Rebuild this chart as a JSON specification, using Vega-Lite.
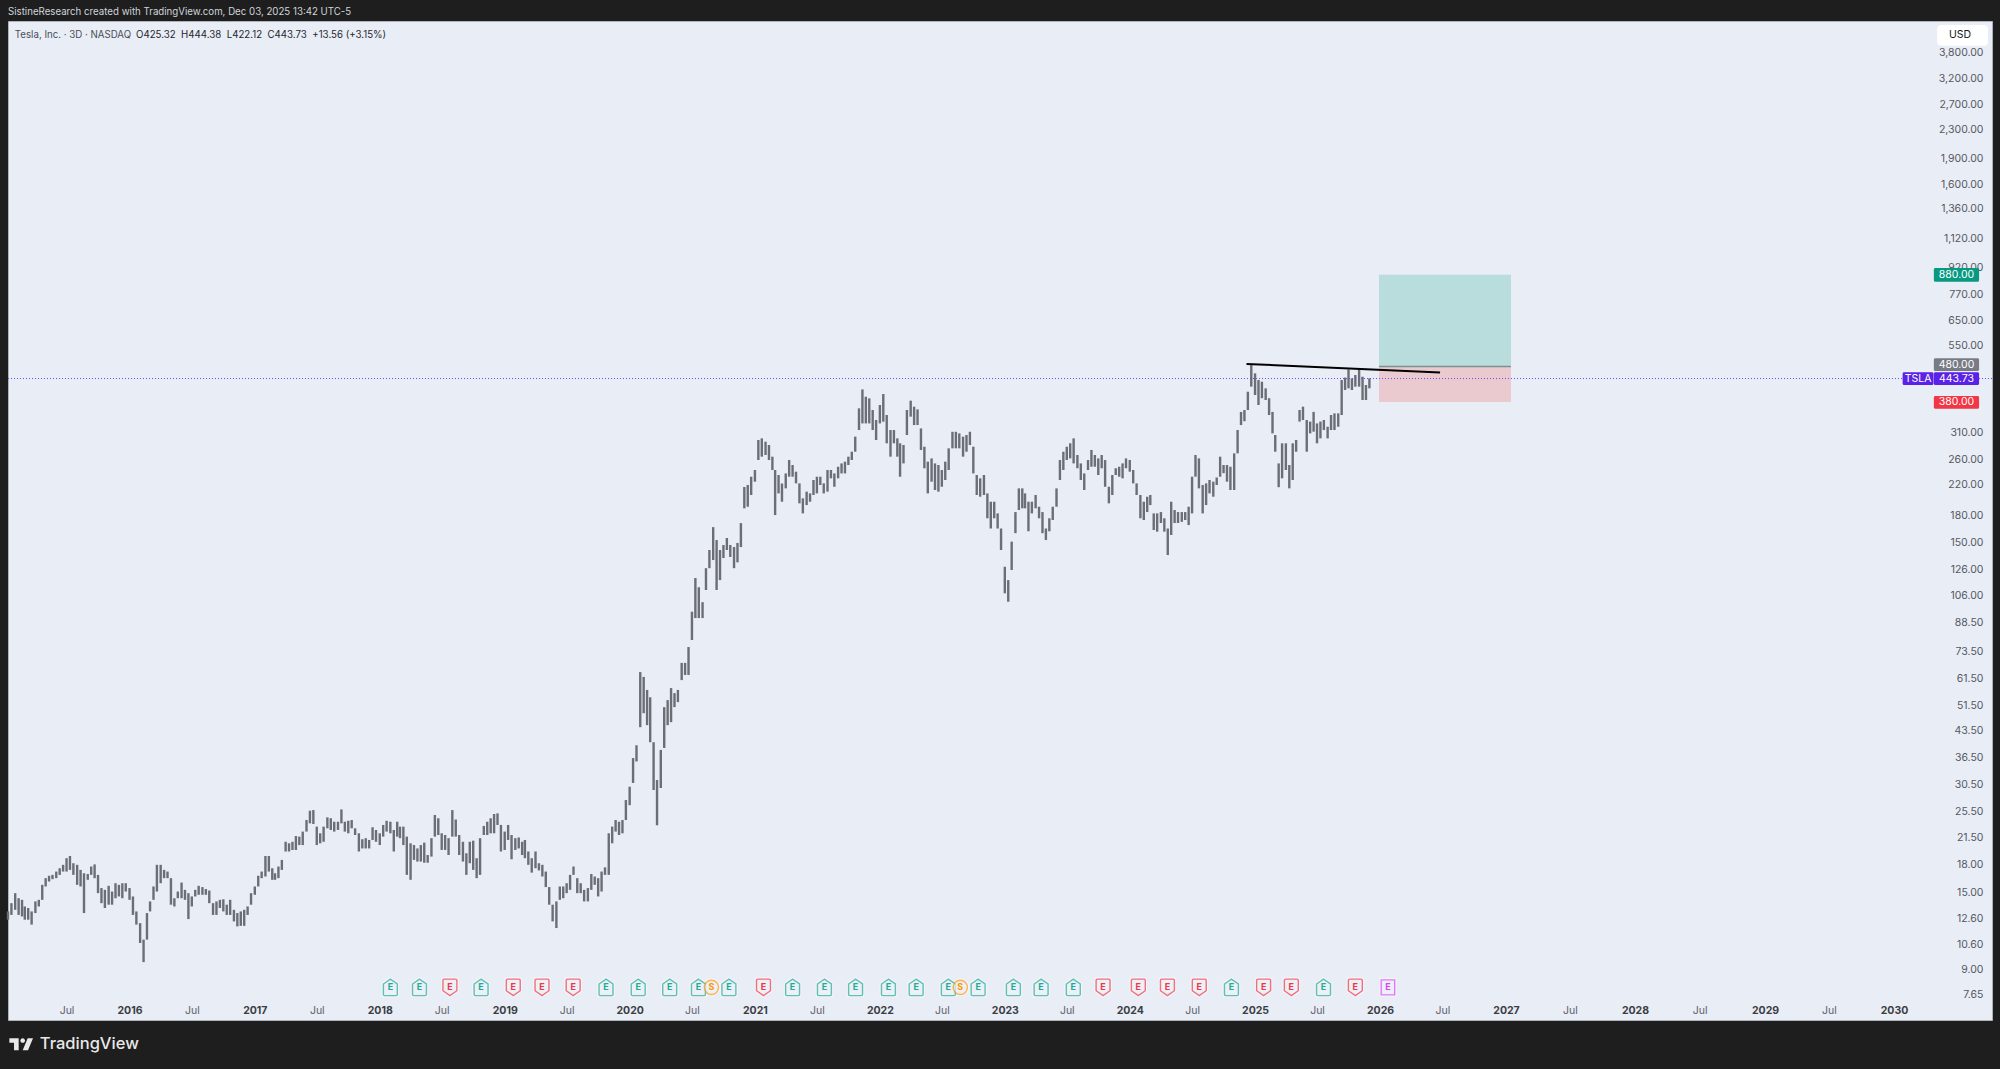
{"$schema":"https://vega.github.io/schema/vega-lite/v6.json","autosize":"none","width":1984,"height":999,"padding":{"left":8,"top":21,"right":8,"bottom":49},"background":"#1e1e1e","view":{"fill":"#e9edf6","stroke":"#aeb2ba"},
"title":{"text":"SistineResearch created with TradingView.com, Dec 03, 2025 13:42 UTC-5","anchor":"start","frame":"group","orient":"top","offset":4,"color":"#d1d4dc","fontSize":9.7,"font":"Inter","fontWeight":"normal"},
"datasets":{
"bars":[
{"d":"2015-01-11","low":12.5,"high":13.2},{"d":"2015-01-21","low":12.9,"high":13.94},{"d":"2015-02-01","low":13.34,"high":14.89},{"d":"2015-02-11","low":12.9,"high":14.4},{"d":"2015-02-21","low":12.77,"high":14.25},{"d":"2015-03-01","low":12.5,"high":13.64},{"d":"2015-03-11","low":12.5,"high":13.5},{"d":"2015-03-21","low":12.1,"high":13.2},{"d":"2015-04-01","low":13.06,"high":14.1},{"d":"2015-04-11","low":13.64,"high":14.25},{"d":"2015-04-21","low":14.25,"high":15.73},{"d":"2015-05-01","low":15.56,"high":16.44},{"d":"2015-05-11","low":16.08,"high":16.7},{"d":"2015-05-21","low":16.33,"high":16.8},{"d":"2015-06-01","low":16.44,"high":17.17},{"d":"2015-06-11","low":16.8,"high":17.55},{"d":"2015-06-21","low":17.17,"high":17.95},{"d":"2015-07-01","low":17.17,"high":18.75},{"d":"2015-07-11","low":17.36,"high":19.03},{"d":"2015-07-21","low":16.8,"high":18.14},{"d":"2015-08-01","low":15.73,"high":17.95},{"d":"2015-08-11","low":15.56,"high":17.36},{"d":"2015-08-21","low":13.06,"high":16.98},{"d":"2015-09-01","low":16.26,"high":16.9},{"d":"2015-09-11","low":16.8,"high":17.75},{"d":"2015-09-21","low":16.44,"high":18},{"d":"2015-10-01","low":14.89,"high":16.8},{"d":"2015-10-11","low":13.94,"high":15.4},{"d":"2015-10-21","low":13.5,"high":15.22},{"d":"2015-11-01","low":13.8,"high":15.63},{"d":"2015-11-11","low":13.8,"high":15.05},{"d":"2015-11-21","low":14.4,"high":15.9},{"d":"2015-12-01","low":14.57,"high":15.73},{"d":"2015-12-11","low":14.4,"high":15.9},{"d":"2015-12-21","low":15.05,"high":15.9},
{"d":"2016-01-01","low":14.25,"high":15.4},{"d":"2016-01-11","low":12.9,"high":14.57},{"d":"2016-01-21","low":12.1,"high":13.2},{"d":"2016-02-01","low":10.72,"high":12.22},{"d":"2016-02-11","low":9.45,"high":10.96},{"d":"2016-02-21","low":10.96,"high":13.06},{"d":"2016-03-01","low":13.2,"high":14.1},{"d":"2016-03-11","low":14.25,"high":15.56},{"d":"2016-03-21","low":15.05,"high":17.95},{"d":"2016-04-01","low":15.9,"high":17.95},{"d":"2016-04-11","low":16.44,"high":17.36},{"d":"2016-04-21","low":16.44,"high":17.17},{"d":"2016-05-01","low":13.8,"high":16.44},{"d":"2016-05-11","low":13.64,"high":14.4},{"d":"2016-05-21","low":14.4,"high":15.05},{"d":"2016-06-01","low":14.4,"high":15.97},{"d":"2016-06-11","low":14.25,"high":15.22},{"d":"2016-06-21","low":12.55,"high":14.89},{"d":"2016-07-01","low":13.64,"high":14.57},{"d":"2016-07-11","low":14.57,"high":15.22},{"d":"2016-07-21","low":14.73,"high":15.63},{"d":"2016-08-01","low":14.73,"high":15.5},{"d":"2016-08-11","low":14.73,"high":15.3},{"d":"2016-08-21","low":13.94,"high":15.15},{"d":"2016-09-01","low":12.9,"high":13.94},{"d":"2016-09-11","low":12.9,"high":14.1},{"d":"2016-09-21","low":13.5,"high":14.25},{"d":"2016-10-01","low":13.2,"high":14.3},{"d":"2016-10-11","low":12.9,"high":13.8},{"d":"2016-10-21","low":12.9,"high":14.25},{"d":"2016-11-01","low":12.36,"high":13.34},{"d":"2016-11-11","low":11.96,"high":13.06},{"d":"2016-11-21","low":12,"high":13.2},{"d":"2016-12-01","low":12,"high":13.34},{"d":"2016-12-11","low":12.9,"high":13.64},{"d":"2016-12-21","low":13.8,"high":14.89},
{"d":"2017-01-01","low":14.73,"high":15.56},{"d":"2017-01-11","low":15.56,"high":16.7},{"d":"2017-01-21","low":16.44,"high":17.17},{"d":"2017-02-01","low":16.62,"high":19.03},{"d":"2017-02-11","low":17.17,"high":19.03},{"d":"2017-02-21","low":16.26,"high":17.55},{"d":"2017-03-01","low":16.26,"high":16.98},{"d":"2017-03-11","low":16.44,"high":17.75},{"d":"2017-03-21","low":17.36,"high":18.54},{"d":"2017-04-01","low":19.6,"high":20.9},{"d":"2017-04-11","low":19.6,"high":20.69},{"d":"2017-04-21","low":19.8,"high":20.9},{"d":"2017-05-01","low":19.8,"high":21.7},{"d":"2017-05-11","low":20.45,"high":21.62},{"d":"2017-05-21","low":20.45,"high":22.35},{"d":"2017-06-01","low":22.35,"high":24.12},{"d":"2017-06-11","low":23.6,"high":25.65},{"d":"2017-06-21","low":23.5,"high":25.76},{"d":"2017-07-01","low":20.45,"high":23.09},{"d":"2017-07-11","low":20.69,"high":22.1},{"d":"2017-07-21","low":20.9,"high":23.09},{"d":"2017-08-01","low":22.84,"high":24.55},{"d":"2017-08-11","low":22.59,"high":24.4},{"d":"2017-08-21","low":22.35,"high":23.85},{"d":"2017-09-01","low":22.59,"high":23.85},{"d":"2017-09-11","low":23.6,"high":25.87},{"d":"2017-09-21","low":22.35,"high":23.85},{"d":"2017-10-01","low":22.1,"high":24},{"d":"2017-10-11","low":22.84,"high":24.12},{"d":"2017-10-21","low":21.85,"high":22.84},{"d":"2017-11-01","low":19.6,"high":22.1},{"d":"2017-11-11","low":20,"high":21.25},{"d":"2017-11-21","low":20,"high":21.4},{"d":"2017-12-01","low":20,"high":21.15},{"d":"2017-12-11","low":21.15,"high":23},{"d":"2017-12-21","low":20.9,"high":22.59},
{"d":"2018-01-01","low":20.45,"high":22.1},{"d":"2018-01-11","low":21.62,"high":23.35},{"d":"2018-01-21","low":22.35,"high":24},{"d":"2018-02-01","low":22.1,"high":23.85},{"d":"2018-02-11","low":19.6,"high":22.59},{"d":"2018-02-21","low":21.62,"high":23.85},{"d":"2018-03-01","low":21.4,"high":23.09},{"d":"2018-03-11","low":20.45,"high":23.09},{"d":"2018-03-21","low":16.8,"high":21.62},{"d":"2018-04-01","low":16.26,"high":20.69},{"d":"2018-04-11","low":18.54,"high":20.45},{"d":"2018-04-21","low":18.34,"high":20},{"d":"2018-05-01","low":18.34,"high":20.45},{"d":"2018-05-11","low":18.2,"high":20.78},{"d":"2018-05-21","low":18.2,"high":19.15},{"d":"2018-06-01","low":18.95,"high":21.4},{"d":"2018-06-11","low":21.62,"high":24.93},{"d":"2018-06-21","low":21.85,"high":24.4},{"d":"2018-07-01","low":19.8,"high":22.1},{"d":"2018-07-11","low":19.8,"high":21.85},{"d":"2018-07-21","low":19.15,"high":21.4},{"d":"2018-08-01","low":21.62,"high":25.76},{"d":"2018-08-11","low":21.62,"high":24.2},{"d":"2018-08-21","low":19.15,"high":21.85},{"d":"2018-09-01","low":18.34,"high":20.9},{"d":"2018-09-11","low":16.8,"high":19.37},{"d":"2018-09-21","low":18.14,"high":20.9},{"d":"2018-10-01","low":17.36,"high":21.05},{"d":"2018-10-11","low":16.44,"high":18.75},{"d":"2018-10-21","low":16.8,"high":21.4},{"d":"2018-11-01","low":21.85,"high":23.2},{"d":"2018-11-11","low":21.85,"high":23.85},{"d":"2018-11-21","low":22.1,"high":24.4},{"d":"2018-12-01","low":22.1,"high":25.1},{"d":"2018-12-11","low":23.35,"high":25.2},{"d":"2018-12-21","low":19.6,"high":23.35},
{"d":"2019-01-01","low":19.8,"high":22.35},{"d":"2019-01-11","low":21.15,"high":23.35},{"d":"2019-01-21","low":18.62,"high":21.85},{"d":"2019-02-01","low":19.8,"high":21.4},{"d":"2019-02-11","low":20,"high":21.5},{"d":"2019-02-21","low":19.15,"high":20.9},{"d":"2019-03-01","low":18.75,"high":21.15},{"d":"2019-03-11","low":17.95,"high":19.6},{"d":"2019-03-21","low":17.05,"high":18.75},{"d":"2019-04-01","low":17.55,"high":19.6},{"d":"2019-04-11","low":17.3,"high":18.14},{"d":"2019-04-21","low":16.62,"high":17.95},{"d":"2019-05-01","low":15.5,"high":17.17},{"d":"2019-05-11","low":13.8,"high":15.5},{"d":"2019-05-21","low":12.36,"high":13.8},{"d":"2019-06-01","low":11.83,"high":14.1},{"d":"2019-06-11","low":14.25,"high":15.56},{"d":"2019-06-21","low":14.4,"high":15.56},{"d":"2019-07-01","low":14.89,"high":15.9},{"d":"2019-07-11","low":15.22,"high":16.8},{"d":"2019-07-21","low":16.8,"high":17.75},{"d":"2019-08-01","low":14.89,"high":16.44},{"d":"2019-08-11","low":14.89,"high":15.9},{"d":"2019-08-21","low":14.1,"high":15.22},{"d":"2019-09-01","low":14.1,"high":15.4},{"d":"2019-09-11","low":15.22,"high":16.9},{"d":"2019-09-21","low":15.73,"high":16.62},{"d":"2019-10-01","low":14.57,"high":16.44},{"d":"2019-10-11","low":15.05,"high":17.17},{"d":"2019-10-21","low":16.8,"high":17.65},{"d":"2019-11-01","low":16.8,"high":22.1},{"d":"2019-11-11","low":20.69,"high":23.09},{"d":"2019-11-21","low":22.35,"high":24.12},{"d":"2019-12-01","low":21.85,"high":23.85},{"d":"2019-12-11","low":22.1,"high":24.12},{"d":"2019-12-21","low":24.12,"high":27.52},
{"d":"2020-01-01","low":26.6,"high":30.05},{"d":"2020-01-11","low":30.8,"high":36.3},{"d":"2020-01-21","low":35.5,"high":39.5},{"d":"2020-02-01","low":44.5,"high":64},{"d":"2020-02-11","low":48.8,"high":62},{"d":"2020-02-21","low":45.1,"high":56.9},{"d":"2020-03-01","low":40.3,"high":54.2},{"d":"2020-03-11","low":29.4,"high":40.3},{"d":"2020-03-21","low":23.3,"high":31.4},{"d":"2020-04-01","low":29.8,"high":38.3},{"d":"2020-04-11","low":38.8,"high":50.8},{"d":"2020-04-21","low":45.1,"high":53.2},{"d":"2020-05-01","low":46,"high":57.6},{"d":"2020-05-11","low":50.8,"high":55.7},{"d":"2020-05-21","low":52.5,"high":56.9},{"d":"2020-06-01","low":60.7,"high":68},{"d":"2020-06-11","low":62.8,"high":68},{"d":"2020-06-21","low":62.8,"high":75.5},{"d":"2020-07-01","low":79.1,"high":95.3},{"d":"2020-07-11","low":91.4,"high":119},{"d":"2020-07-21","low":91.4,"high":112},{"d":"2020-08-01","low":91.4,"high":101.5},{"d":"2020-08-11","low":110,"high":127},{"d":"2020-08-21","low":127,"high":143.2},{"d":"2020-09-01","low":134,"high":166.5},{"d":"2020-09-11","low":110,"high":152.9},{"d":"2020-09-21","low":117.4,"high":143.2},{"d":"2020-10-01","low":135.8,"high":148},{"d":"2020-10-11","low":143.2,"high":155},{"d":"2020-10-21","low":136.7,"high":148},{"d":"2020-11-01","low":127,"high":146},{"d":"2020-11-11","low":132,"high":150},{"d":"2020-11-21","low":146,"high":171},{"d":"2020-12-01","low":188.5,"high":217},{"d":"2020-12-11","low":190.5,"high":219.8},{"d":"2020-12-21","low":205.8,"high":232.2},
{"d":"2021-01-01","low":224.7,"high":242.7},{"d":"2021-01-11","low":259.2,"high":295.8},{"d":"2021-01-21","low":265,"high":299},{"d":"2021-02-01","low":267.9,"high":292.5},{"d":"2021-02-11","low":259.2,"high":286.2},{"d":"2021-02-21","low":242.7,"high":265},{"d":"2021-03-01","low":180.3,"high":242.7},{"d":"2021-03-11","low":208,"high":234.8},{"d":"2021-03-21","low":196.9,"high":222},{"d":"2021-04-01","low":215,"high":237.3},{"d":"2021-04-11","low":232.2,"high":259.2},{"d":"2021-04-21","low":232.2,"high":250.8},{"d":"2021-05-01","low":222.2,"high":240},{"d":"2021-05-11","low":194.8,"high":222.2},{"d":"2021-05-21","low":182.3,"high":201.3},{"d":"2021-06-01","low":192.6,"high":210.4},{"d":"2021-06-11","low":196.9,"high":208},{"d":"2021-06-21","low":205.8,"high":227.2},{"d":"2021-07-01","low":208,"high":232.2},{"d":"2021-07-11","low":219.8,"high":232.2},{"d":"2021-07-21","low":208,"high":222.2},{"d":"2021-08-01","low":210.4,"high":242.7},{"d":"2021-08-11","low":229.7,"high":242.7},{"d":"2021-08-21","low":217.3,"high":237.3},{"d":"2021-09-01","low":229.7,"high":248},{"d":"2021-09-11","low":237.3,"high":253.5},{"d":"2021-09-21","low":237.3,"high":256.4},{"d":"2021-10-01","low":250.8,"high":265},{"d":"2021-10-11","low":259.2,"high":273.8},{"d":"2021-10-21","low":273.8,"high":302.4},{"d":"2021-11-01","low":315.9,"high":364.5},{"d":"2021-11-11","low":330,"high":413},{"d":"2021-11-21","low":330,"high":393.6},{"d":"2021-12-01","low":330,"high":389.3},{"d":"2021-12-11","low":315.9,"high":360.5},{"d":"2021-12-21","low":295.8,"high":337.5},
{"d":"2022-01-01","low":330,"high":372.6},{"d":"2022-01-11","low":333.8,"high":400.6},{"d":"2022-01-21","low":289.4,"high":348.8},{"d":"2022-02-01","low":265,"high":315.9},{"d":"2022-02-11","low":289.4,"high":315.9},{"d":"2022-02-21","low":265,"high":299},{"d":"2022-03-01","low":232.2,"high":289.4},{"d":"2022-03-11","low":253.5,"high":286.2},{"d":"2022-03-21","low":305.7,"high":360.5},{"d":"2022-04-01","low":345,"high":383.4},{"d":"2022-04-11","low":326.5,"high":368.5},{"d":"2022-04-21","low":326.5,"high":362},{"d":"2022-05-01","low":276.9,"high":319.3},{"d":"2022-05-11","low":245.5,"high":283},{"d":"2022-05-21","low":208,"high":256.4},{"d":"2022-06-01","low":224.7,"high":262},{"d":"2022-06-11","low":212.7,"high":253.5},{"d":"2022-06-21","low":210.4,"high":250.8},{"d":"2022-07-01","low":217.3,"high":242.7},{"d":"2022-07-11","low":227.2,"high":256.4},{"d":"2022-07-21","low":242.7,"high":280},{"d":"2022-08-01","low":280,"high":312.3},{"d":"2022-08-11","low":280,"high":312.3},{"d":"2022-08-21","low":280,"high":309},{"d":"2022-09-01","low":265,"high":302.4},{"d":"2022-09-11","low":273.8,"high":305.7},{"d":"2022-09-21","low":286.2,"high":312.3},{"d":"2022-10-01","low":237.3,"high":283},{"d":"2022-10-11","low":205.8,"high":234.8},{"d":"2022-10-21","low":203.5,"high":229.7},{"d":"2022-11-01","low":205.8,"high":234.8},{"d":"2022-11-11","low":176.5,"high":208},{"d":"2022-11-21","low":165,"high":196.9},{"d":"2022-12-01","low":176.5,"high":196.9},{"d":"2022-12-11","low":165,"high":182.3},{"d":"2022-12-21","low":143.2,"high":165},
{"d":"2023-01-01","low":107.6,"high":128.2},{"d":"2023-01-11","low":101.8,"high":117.4},{"d":"2023-01-21","low":125.5,"high":151.3},{"d":"2023-02-01","low":160,"high":183.9},{"d":"2023-02-11","low":186.4,"high":215},{"d":"2023-02-21","low":188.5,"high":215},{"d":"2023-03-01","low":188.5,"high":208},{"d":"2023-03-11","low":162,"high":196.9},{"d":"2023-03-21","low":182.3,"high":196.9},{"d":"2023-04-01","low":188.5,"high":205.8},{"d":"2023-04-11","low":176.5,"high":190.5},{"d":"2023-04-21","low":160,"high":183.9},{"d":"2023-05-01","low":152.9,"high":165},{"d":"2023-05-11","low":162,"high":176.5},{"d":"2023-05-21","low":174.5,"high":190.5},{"d":"2023-06-01","low":190.5,"high":215},{"d":"2023-06-11","low":227.2,"high":259.2},{"d":"2023-06-21","low":242.7,"high":273.8},{"d":"2023-07-01","low":259.2,"high":283},{"d":"2023-07-11","low":262,"high":289.4},{"d":"2023-07-21","low":253.5,"high":299},{"d":"2023-08-01","low":245.5,"high":267.9},{"d":"2023-08-11","low":227.2,"high":253.5},{"d":"2023-08-21","low":212.7,"high":237.3},{"d":"2023-09-01","low":242.7,"high":259.2},{"d":"2023-09-11","low":248,"high":276.9},{"d":"2023-09-21","low":248,"high":267.9},{"d":"2023-10-01","low":234.8,"high":262},{"d":"2023-10-11","low":245.5,"high":267.9},{"d":"2023-10-21","low":217.3,"high":259.2},{"d":"2023-11-01","low":194.8,"high":217.3},{"d":"2023-11-11","low":205.8,"high":234.8},{"d":"2023-11-21","low":234.8,"high":245.5},{"d":"2023-12-01","low":232.2,"high":248},{"d":"2023-12-11","low":229.7,"high":253.5},{"d":"2023-12-21","low":245.5,"high":262},
{"d":"2024-01-01","low":240,"high":259.2},{"d":"2024-01-11","low":222.2,"high":242.7},{"d":"2024-01-21","low":205.8,"high":222.2},{"d":"2024-02-01","low":176.5,"high":205.8},{"d":"2024-02-11","low":174.5,"high":196.9},{"d":"2024-02-21","low":183.9,"high":203.5},{"d":"2024-03-01","low":192.6,"high":205.8},{"d":"2024-03-11","low":163.4,"high":182.3},{"d":"2024-03-21","low":161.6,"high":182.3},{"d":"2024-04-01","low":171.1,"high":183.9},{"d":"2024-04-11","low":161.6,"high":176.5},{"d":"2024-04-21","low":138.5,"high":165},{"d":"2024-05-01","low":158.1,"high":196.9},{"d":"2024-05-11","low":171.1,"high":186.4},{"d":"2024-05-21","low":171.1,"high":183.9},{"d":"2024-06-01","low":172.4,"high":183.9},{"d":"2024-06-11","low":174.5,"high":183.9},{"d":"2024-06-21","low":168.8,"high":190.5},{"d":"2024-07-01","low":182.3,"high":232.2},{"d":"2024-07-11","low":232.2,"high":267.9},{"d":"2024-07-21","low":215,"high":262},{"d":"2024-08-01","low":182.3,"high":219.8},{"d":"2024-08-11","low":192.6,"high":222.2},{"d":"2024-08-21","low":208,"high":227.2},{"d":"2024-09-01","low":203.5,"high":224.7},{"d":"2024-09-11","low":219.8,"high":231},{"d":"2024-09-21","low":232.2,"high":265},{"d":"2024-10-01","low":237.7,"high":250.8},{"d":"2024-10-11","low":224.7,"high":250.8},{"d":"2024-10-21","low":212.7,"high":248},{"d":"2024-11-01","low":212.7,"high":270.9},{"d":"2024-11-11","low":270.9,"high":315.9},{"d":"2024-11-21","low":326.5,"high":356},{"d":"2024-12-01","low":334.8,"high":360.5},{"d":"2024-12-11","low":360.5,"high":406.7},{"d":"2024-12-21","low":420.5,"high":488},
{"d":"2025-01-01","low":398,"high":459.2},{"d":"2025-01-11","low":372.6,"high":439.4},{"d":"2025-01-21","low":389.7,"high":434.5},{"d":"2025-02-01","low":385.1,"high":415.9},{"d":"2025-02-11","low":348.8,"high":389.7},{"d":"2025-02-21","low":309,"high":356},{"d":"2025-03-01","low":273.8,"high":305.7},{"d":"2025-03-11","low":216.7,"high":253.5},{"d":"2025-03-21","low":229.7,"high":289.4},{"d":"2025-04-01","low":242.7,"high":289.4},{"d":"2025-04-11","low":215,"high":250.8},{"d":"2025-04-21","low":227.2,"high":289.4},{"d":"2025-05-01","low":273.8,"high":295.8},{"d":"2025-05-11","low":334,"high":360.5},{"d":"2025-05-21","low":337.5,"high":368.5},{"d":"2025-06-01","low":273.8,"high":337.5},{"d":"2025-06-11","low":309,"high":334},{"d":"2025-06-21","low":312.5,"high":356},{"d":"2025-07-01","low":289.4,"high":330},{"d":"2025-07-11","low":299,"high":334},{"d":"2025-07-21","low":315.9,"high":337.5},{"d":"2025-08-01","low":299,"high":322.9},{"d":"2025-08-11","low":315.9,"high":348.8},{"d":"2025-08-21","low":315.9,"high":352.6},{"d":"2025-09-01","low":322.9,"high":352.6},{"d":"2025-09-11","low":348.8,"high":439.4},{"d":"2025-09-21","low":411.3,"high":446.5},{"d":"2025-10-01","low":415.9,"high":471},{"d":"2025-10-11","low":411.3,"high":444.2},{"d":"2025-10-21","low":420.5,"high":454.1},{"d":"2025-11-01","low":420.5,"high":471},{"d":"2025-11-11","low":385.1,"high":449},{"d":"2025-11-21","low":385.1,"high":425.1},{"d":"2025-12-01","low":415.9,"high":444.38}
],
"earn":[
{"d":"2018-02-01","p":8,"kind":"beat","t":"E"},{"d":"2018-04-27","p":8,"kind":"beat","t":"E"},{"d":"2018-07-25","p":8,"kind":"miss","t":"E"},{"d":"2018-10-24","p":8,"kind":"beat","t":"E"},{"d":"2019-01-26","p":8,"kind":"miss","t":"E"},{"d":"2019-04-20","p":8,"kind":"miss","t":"E"},{"d":"2019-07-20","p":8,"kind":"miss","t":"E"},{"d":"2019-10-24","p":8,"kind":"beat","t":"E"},{"d":"2020-01-26","p":8,"kind":"beat","t":"E"},{"d":"2020-04-27","p":8,"kind":"beat","t":"E"},{"d":"2020-07-20","p":8,"kind":"beat","t":"E"},{"d":"2020-08-27","p":8,"kind":"split","t":"S"},{"d":"2020-10-17","p":8,"kind":"beat","t":"E"},{"d":"2021-01-26","p":8,"kind":"miss","t":"E"},{"d":"2021-04-21","p":8,"kind":"beat","t":"E"},{"d":"2021-07-23","p":8,"kind":"beat","t":"E"},{"d":"2021-10-22","p":8,"kind":"beat","t":"E"},{"d":"2022-01-26","p":8,"kind":"beat","t":"E"},{"d":"2022-04-17","p":8,"kind":"beat","t":"E"},{"d":"2022-07-20","p":8,"kind":"beat","t":"E"},{"d":"2022-08-24","p":8,"kind":"split","t":"S"},{"d":"2022-10-15","p":8,"kind":"beat","t":"E"},{"d":"2023-01-26","p":8,"kind":"beat","t":"E"},{"d":"2023-04-17","p":8,"kind":"beat","t":"E"},{"d":"2023-07-20","p":8,"kind":"beat","t":"E"},{"d":"2023-10-15","p":8,"kind":"miss","t":"E"},{"d":"2024-01-26","p":8,"kind":"miss","t":"E"},{"d":"2024-04-20","p":8,"kind":"miss","t":"E"},{"d":"2024-07-22","p":8,"kind":"miss","t":"E"},{"d":"2024-10-24","p":8,"kind":"beat","t":"E"},{"d":"2025-01-26","p":8,"kind":"miss","t":"E"},{"d":"2025-04-17","p":8,"kind":"miss","t":"E"},{"d":"2025-07-20","p":8,"kind":"beat","t":"E"},{"d":"2025-10-21","p":8,"kind":"miss","t":"E"},{"d":"2026-01-24","p":8,"kind":"next","t":"E"}
],
"boxes":[
{"a":"2025-12-29","b":"2027-01-15","top":880,"bot":480,"kind":"profit"},{"a":"2025-12-29","b":"2027-01-15","top":480,"bot":380,"kind":"loss"}
],
"tags":[
{"a":"2030-04-22","b":"2030-08-26","m":"2030-06-24","top":920,"bot":840,"p":880,"t":"880.00","kind":"target"},{"a":"2030-04-22","b":"2030-08-26","m":"2030-06-24","top":507,"bot":466,"p":486,"t":"480.00","kind":"entry"},{"a":"2030-04-22","b":"2030-08-26","m":"2030-06-24","top":462.3,"bot":425,"p":443.73,"t":"443.73","kind":"last"},{"a":"2030-01-25","b":"2030-04-21","m":"2030-03-09","top":462.3,"bot":425,"p":443.73,"t":"TSLA","kind":"last"},{"a":"2030-04-22","b":"2030-08-26","m":"2030-06-24","top":395.4,"bot":363.6,"p":380,"t":"380.00","kind":"stop"}
]
},
"layer":[
{"data":{"name":"boxes"},"mark":{"type":"rect"},"encoding":{
"x":{"field":"a","type":"temporal","title":null,"scale":{"type":"utc","nice":false,"domainRaw":{"signal":"[utc(2015,0,11),utc(2026,0,1),utc(2027,0,1),utc(2028,0,1),utc(2029,0,1),utc(2030,0,1),utc(2030,9,1)]"},"range":[0,1372,1498,1627,1757,1886,1984]},"axis":{"title":null,"orient":"bottom","offset":-10,"domain":false,"ticks":false,"grid":false,"labelFont":"Inter","labelFontSize":10.5,"labelColor":{"condition":{"test":"utcmonth(datum.value)==0","value":"#3a3d44"},"value":"#5d6068"},"labelFontWeight":{"condition":{"test":"utcmonth(datum.value)==0","value":"bold"},"value":"normal"},"labelBaseline":"middle","labelPadding":0,"labelOverlap":false,"labelBound":false,"labelFlush":false,"labelExpr":"utcmonth(datum.value)==0?''+utcyear(datum.value):'Jul'","values":[{"year":2015,"month":7,"date":1,"utc":true},{"year":2016,"month":1,"date":1,"utc":true},{"year":2016,"month":7,"date":1,"utc":true},{"year":2017,"month":1,"date":1,"utc":true},{"year":2017,"month":7,"date":1,"utc":true},{"year":2018,"month":1,"date":1,"utc":true},{"year":2018,"month":7,"date":1,"utc":true},{"year":2019,"month":1,"date":1,"utc":true},{"year":2019,"month":7,"date":1,"utc":true},{"year":2020,"month":1,"date":1,"utc":true},{"year":2020,"month":7,"date":1,"utc":true},{"year":2021,"month":1,"date":1,"utc":true},{"year":2021,"month":7,"date":1,"utc":true},{"year":2022,"month":1,"date":1,"utc":true},{"year":2022,"month":7,"date":1,"utc":true},{"year":2023,"month":1,"date":1,"utc":true},{"year":2023,"month":7,"date":1,"utc":true},{"year":2024,"month":1,"date":1,"utc":true},{"year":2024,"month":7,"date":1,"utc":true},{"year":2025,"month":1,"date":1,"utc":true},{"year":2025,"month":7,"date":1,"utc":true},{"year":2026,"month":1,"date":1,"utc":true},{"year":2026,"month":7,"date":1,"utc":true},{"year":2027,"month":1,"date":1,"utc":true},{"year":2027,"month":7,"date":1,"utc":true},{"year":2028,"month":1,"date":1,"utc":true},{"year":2028,"month":7,"date":1,"utc":true},{"year":2029,"month":1,"date":1,"utc":true},{"year":2029,"month":7,"date":1,"utc":true},{"year":2030,"month":1,"date":1,"utc":true}]}},
"x2":{"field":"b"},
"y":{"field":"top","type":"quantitative","title":null,"scale":{"type":"log","nice":false,"zero":false,"domain":[6.45,4691]},"axis":{"title":null,"orient":"right","offset":-9,"domain":false,"ticks":false,"grid":false,"labelFont":"Inter","labelFontSize":10.5,"labelColor":"#55585f","labelAlign":"right","labelPadding":0,"labelOverlap":false,"labelBound":false,"labelFlush":false,"format":",.2f","values":[7.65,9,10.6,12.6,15,18,21.5,25.5,30.5,36.5,43.5,51.5,61.5,73.5,88.5,106,126,150,180,220,260,310,550,650,770,920,1120,1360,1600,1900,2300,2700,3200,3800]}},
"y2":{"field":"bot"},
"color":{"field":"kind","type":"nominal","legend":null,"scale":{"domain":["profit","loss"],"range":["#b9dcdd","#eac9cf"]}}}},
{"data":{"values":[{"a":"2025-12-29","b":"2027-01-15","p":480}]},"mark":{"type":"rule","color":"#7e8f94","strokeWidth":1.5},"encoding":{"x":{"field":"a","type":"temporal"},"x2":{"field":"b"},"y":{"field":"p","type":"quantitative"}}},
{"data":{"name":"bars"},"mark":{"type":"rule","color":"#6b6e74","strokeWidth":2.4},"encoding":{"x":{"field":"d","type":"temporal"},"y":{"field":"low","type":"quantitative"},"y2":{"field":"high"}}},
{"data":{"values":[{"p":443.73}]},"mark":{"type":"rule","color":"#6d4cf0","strokeWidth":1,"strokeDash":[1,2]},"encoding":{"y":{"field":"p","type":"quantitative"}}},
{"data":{"values":[{"d":"2024-12-07","p":488.3},{"d":"2026-06-24","p":462}]},"mark":{"type":"line","color":"#000000","strokeWidth":2},"encoding":{"x":{"field":"d","type":"temporal"},"y":{"field":"p","type":"quantitative"}}},
{"data":{"name":"earn"},"mark":{"type":"point","filled":true,"fill":"#ffffff","fillOpacity":0.6,"size":225,"stroke":"#f4f6fb","strokeWidth":3.5,"strokeOpacity":1},"encoding":{"x":{"field":"d","type":"temporal"},"y":{"field":"p","type":"quantitative"},"shape":{"field":"kind","type":"nominal","legend":null,"scale":{"domain":["beat","miss","split","next"],"range":["M-0.93,-0.45 L0,-1.1 L0.93,-0.45 L0.93,0.95 Q0.93,1.1 0.78,1.1 L-0.78,1.1 Q-0.93,1.1 -0.93,0.95 Z","M-0.93,0.45 L0,1.1 L0.93,0.45 L0.93,-0.95 Q0.93,-1.1 0.78,-1.1 L-0.78,-1.1 Q-0.93,-1.1 -0.93,-0.95 Z","M-0.95,0 A0.95,0.95 0 1 0 0.95,0 A0.95,0.95 0 1 0 -0.95,0 Z","M-0.9,-1 H0.9 V1 H-0.9 Z"]}}}},
{"data":{"name":"earn"},"mark":{"type":"point","filled":true,"fill":"#e9edf6","size":225,"strokeWidth":1.4,"strokeOpacity":1},"encoding":{"x":{"field":"d","type":"temporal"},"y":{"field":"p","type":"quantitative"},"shape":{"field":"kind","type":"nominal","legend":null},"stroke":{"field":"kind","type":"nominal","legend":null,"scale":{"domain":["beat","miss","split","next"],"range":["#22ab94","#f23645","#ff9800","#e040fb"]}}}},
{"data":{"name":"earn"},"mark":{"type":"text","font":"Inter","fontSize":9,"fontWeight":"bold","align":"center","baseline":"middle"},"encoding":{"x":{"field":"d","type":"temporal"},"y":{"field":"p","type":"quantitative"},"text":{"field":"t"},"color":{"field":"kind","type":"nominal","legend":null,"scale":{"domain":["beat","miss","split","next"],"range":["#22ab94","#f23645","#ff9800","#e040fb"]}}}},
{"data":{"name":"tags"},"mark":{"type":"rect","cornerRadius":1.5},"encoding":{"x":{"field":"a","type":"temporal"},"x2":{"field":"b"},"y":{"field":"top","type":"quantitative"},"y2":{"field":"bot"},"fill":{"field":"kind","type":"nominal","legend":null,"scale":{"domain":["target","entry","last","stop"],"range":["#089981","#787b86","#5a22e6","#f23645"]}}}},
{"data":{"name":"tags"},"mark":{"type":"text","font":"Inter","fontSize":10.5,"color":"#ffffff","align":"center","baseline":"middle"},"encoding":{"x":{"field":"m","type":"temporal"},"y":{"field":"p","type":"quantitative"},"text":{"field":"t"}}},
{"data":{"values":[{"a":"2030-05-01","b":"2030-09-20","top":4569,"bot":3985}]},"mark":{"type":"rect","fill":"#ffffff","cornerRadius":4},"encoding":{"x":{"field":"a","type":"temporal"},"x2":{"field":"b"},"y":{"field":"top","type":"quantitative"},"y2":{"field":"bot"}}},
{"data":{"values":[{"d":"2030-07-04","p":4277,"t":"USD"}]},"mark":{"type":"text","font":"Inter","fontSize":10.5,"color":"#131722","align":"center","baseline":"middle"},"encoding":{"x":{"field":"d","type":"temporal"},"y":{"field":"p","type":"quantitative"},"text":{"field":"t"}}},
{"data":{"values":[{"d":"2015-01-31","p":4277,"t":"Tesla, Inc. · 3D · NASDAQ"}]},"mark":{"type":"text","font":"Inter","fontSize":9.7,"color":"#4a4e57","align":"left","baseline":"middle"},"encoding":{"x":{"field":"d","type":"temporal"},"y":{"field":"p","type":"quantitative"},"text":{"field":"t"}}},
{"data":{"values":[{"d":"2016-01-20","p":4277,"t":"O425.32\u00a0\u00a0H444.38\u00a0\u00a0L422.12\u00a0\u00a0C443.73\u00a0\u00a0+13.56 (+3.15%)"}]},"mark":{"type":"text","font":"Inter","fontSize":9.7,"color":"#24272e","align":"left","baseline":"middle"},"encoding":{"x":{"field":"d","type":"temporal"},"y":{"field":"p","type":"quantitative"},"text":{"field":"t"}}},
{"data":{"values":[{"d":"2015-04-14","p":5.5,"t":"TradingView"}]},"mark":{"type":"text","font":"Inter","fontSize":16.5,"fontWeight":500,"color":"#e8e8e8","align":"left","baseline":"middle"},"encoding":{"x":{"field":"d","type":"temporal"},"y":{"field":"p","type":"quantitative"},"text":{"field":"t"}}},
{"data":{"values":[{"d":"2015-02-19","p":5.5}]},"mark":{"type":"point","filled":true,"fill":"#e8e8e8","size":576,"strokeWidth":0,"opacity":1,"shape":"M-0.222,0.5 H-0.611 V-0.111 H-1 V-0.5 H-0.222 Z M0.556,0.5 H0.111 L0.528,-0.5 H0.972 Z M-0.083,-0.305 a0.194,0.194 0 1 0 0.388,0 a0.194,0.194 0 1 0 -0.388,0 Z"},"encoding":{"x":{"field":"d","type":"temporal"},"y":{"field":"p","type":"quantitative"}}}
],
"resolve":{"scale":{"color":"independent","fill":"independent","stroke":"independent"}}
}
